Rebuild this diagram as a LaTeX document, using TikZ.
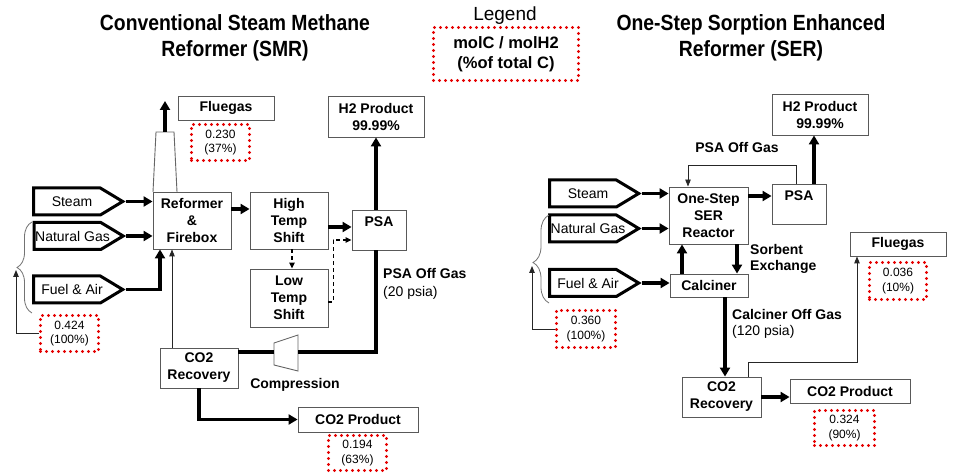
\documentclass[tikz,border=0pt]{standalone}
\usepackage{fontspec}
\setmainfont{Liberation Sans}
\newfontfamily\narrowfont{Liberation Sans}[FakeStretch=0.88]
\usetikzlibrary{arrows.meta,shapes.symbols,decorations.pathreplacing,calc}
\begin{document}
\begin{tikzpicture}[x=1bp,y=-1bp,
  bf/.style={font=\fontsize{14bp}{17bp}\selectfont\bfseries},
  rg/.style={font=\fontsize{14bp}{17bp}\selectfont},
  box/.style={draw=black!65, line width=0.9bp, fill=white, inner sep=0pt, align=center, bf},
  feed/.style={draw=black, line width=3bp, shape=signal, signal to=east, signal from=nowhere,
     signal pointer angle=62, minimum width=89bp, minimum height=27bp, inner sep=0pt},
  feedtxt/.style={rg, anchor=center, xshift=5bp},
  redbox/.style={draw=red!90!black, line width=3.2bp, dash pattern=on 0bp off 6bp, line cap=round,
     inner sep=0pt, align=center, font=\fontsize{12bp}{14.5bp}\selectfont},
  fatarrow/.style={line width=3.5bp, -{Triangle[length=9bp,width=10bp]}},
  fatline/.style={line width=3.5bp},
  thinarrow/.style={line width=0.9bp, draw=black!85, -{Triangle[length=7bp,width=5.5bp]}},
  dasharrow/.style={line width=1.3bp, dash pattern=on 4bp off 3bp, -{Triangle[length=6bp,width=5.5bp]}},
  thinline/.style={line width=0.9bp, draw=black!60},
  bracestyle/.style={line width=0.8bp, draw=black!55, decorate},
  title/.style={font=\narrowfont\fontsize{22bp}{26bp}\selectfont\bfseries, align=center, inner sep=0pt}
]
\useasboundingbox[fill=white] (0,0) rectangle (953,475);

% ---------- titles and legend ----------
\node[title] (titleL) at (235,37.5) {Conventional Steam Methane\\Reformer (SMR)};
\node[title] (titleR) at (751,37.5) {One-Step Sorption Enhanced\\Reformer (SER)};
\node[font=\fontsize{19bp}{22bp}\selectfont, anchor=base, inner sep=0pt] (legendtitle) at (505,21) {Legend};
\node[redbox, minimum width=145bp, minimum height=53bp, font=\fontsize{16.5bp}{19.5bp}\selectfont\bfseries] (legend) at (506,54) {molC / molH2\\(\%of total C)};

% ---------- left: SMR ----------
\node[box, minimum width=96bp, minimum height=24bp] (fluegasL) at (226,108) {Fluegas};
\node[redbox, minimum width=58bp, minimum height=36bp] (rL1) at (220.5,142.5) {0.230\\(37\%)};
\node[box, minimum width=78bp, minimum height=57bp] (reformer) at (192,220.5) {Reformer\\\&\\Firebox};
\node[box, minimum width=78bp, minimum height=57bp] (hts) at (289,220.5) {High\\Temp\\Shift};
\node[box, minimum width=78bp, minimum height=58bp] (lts) at (289,298) {Low\\Temp\\Shift};
\node[box, minimum width=54bp, minimum height=40bp,
  label={[bf, anchor=base, yshift=-17bp, inner sep=0pt]north:PSA}] (psaL) at (379,230) {};
\node[box, minimum width=96bp, minimum height=41bp] (h2L) at (376,116.5) {H2 Product\\99.99\%};
\node[box, minimum width=78bp, minimum height=40bp] (co2recL) at (199,368) {CO2\\Recovery};
\node[box, minimum width=120bp, minimum height=25bp] (co2prodL) at (358,419.5) {CO2 Product};
\node[redbox, minimum width=58bp, minimum height=35bp] (rL2) at (357.5,453) {0.194\\(63\%)};
\node[redbox, minimum width=58bp, minimum height=36bp] (rL3) at (69.5,333.5) {0.424\\(100\%)};

\node[feed, label={[feedtxt]center:Steam}] (steamL) at (67,201.5) {};
\node[feed, label={[feedtxt]center:Natural Gas}] (ngL) at (67.5,236) {};
\node[feed, label={[feedtxt]center:Fuel \& Air}] (fuelL) at (67,289.5) {};

% chimney
\draw[thinline] (153,192) -- (156,132) -- (174,132) -- (177,192);
\coordinate (chimtopL) at (165,132);
\coordinate (stackL) at (165,101);
\draw[fatarrow] (chimtopL) -- (stackL);

% compressor
\draw[thinline] (274,343) -- (298,335) -- (298,371) -- (274,365) -- cycle;
\coordinate (compL) at (274,352);
\coordinate (compR) at (298,352);

\draw[fatarrow] (steamL.east) -- (steamL.east -| reformer.west);
\draw[fatarrow] (ngL.east) -- (ngL.east -| reformer.west);
\draw[fatarrow] (fuelL.east) -| ([xshift=-32bp]reformer.south);
\draw[thinarrow] ([xshift=-27bp]co2recL.north) -- ([xshift=-27bp]co2recL.north |- reformer.south);
\draw[fatarrow] ([yshift=11.5bp]reformer.east) -- ([yshift=11.5bp]reformer.east -| hts.west);
\draw[fatarrow] ([yshift=-6.5bp]hts.east) -- ([yshift=-6.5bp]hts.east -| psaL.west);
\draw[dasharrow] ([xshift=3bp]hts.south) -- ([xshift=3bp]lts.north);
\draw[dasharrow] ([yshift=-4bp]lts.east) -- ++(5,0) |- ([yshift=-10bp]psaL.west);
\draw[fatarrow] (h2L.south |- psaL.north) -- (h2L.south);
\draw[fatline] (h2L.south |- psaL.south) |- (compR);
\draw[fatline] (compL) -- (compL -| co2recL.east);
\draw[fatarrow] (co2recL.south) |- (co2prodL.west);

\node[bf, anchor=base west, inner sep=0pt] (offgasL) at (383,279) {PSA Off Gas};
\node[rg, anchor=base west, inner sep=0pt] (psiaL) at (383,297) {(20 psia)};
\node[bf, anchor=base, inner sep=0pt] (compression) at (295,388) {Compression};

\draw[bracestyle, decoration={brace, amplitude=15bp}] (32,313) -- (32,222);
\coordinate (bracetipL) at (16,270);
\draw[thinarrow] (rL3.west) -| (bracetipL);

% ---------- right: SER ----------
\node[box, minimum width=79bp, minimum height=57bp] (reactor) at (708.5,215.5) {One-Step\\SER\\Reactor};
\node[box, minimum width=78bp, minimum height=23bp] (calciner) at (709,285.5) {Calciner};
\node[box, minimum width=54bp, minimum height=40bp,
  label={[bf, anchor=base, yshift=-17bp, inner sep=0pt]north:PSA}] (psaR) at (799,204) {};
\node[box, minimum width=96bp, minimum height=41bp] (h2R) at (820,114.5) {H2 Product\\99.99\%};
\node[box, minimum width=96bp, minimum height=24bp] (fluegasR) at (898,244) {Fluegas};
\node[redbox, minimum width=57bp, minimum height=37bp] (rR1) at (898,281) {0.036\\(10\%)};
\node[box, minimum width=79bp, minimum height=40bp] (co2recR) at (721.5,397) {CO2\\Recovery};
\node[box, minimum width=120bp, minimum height=24bp] (co2prodR) at (850,391) {CO2 Product};
\node[redbox, minimum width=60bp, minimum height=35bp] (rR2) at (844.5,428) {0.324\\(90\%)};
\node[redbox, minimum width=59bp, minimum height=37bp] (rR3) at (586,329) {0.360\\(100\%)};

\node[feed, label={[feedtxt]center:Steam}] (steamR) at (583,193.5) {};
\node[feed, label={[feedtxt]center:Natural Gas}] (ngR) at (583,228.5) {};
\node[feed, label={[feedtxt]center:Fuel \& Air}] (fuelR) at (583,283) {};

\draw[fatarrow] (steamR.east) -- (steamR.east -| reactor.west);
\draw[fatarrow] (ngR.east) -- (ngR.east -| reactor.west);
\draw[fatarrow] (fuelR.east) -- (fuelR.east -| calciner.west);
\draw[fatarrow] ([yshift=19.5bp]reactor.east) -- ([yshift=19.5bp]reactor.east -| psaR.west);
\draw[fatarrow] ([xshift=15bp]psaR.north) -- ([xshift=15bp]psaR.north |- h2R.south);
\draw[thinarrow] ([xshift=-3bp]psaR.north) -- ++(0,-18) -| ([xshift=-20.5bp]reactor.north);
\draw[fatarrow] ([xshift=-27bp]calciner.north) -- ([xshift=-27bp]calciner.north |- reactor.south);
\draw[fatarrow] ([xshift=28.5bp]reactor.south) -- ([xshift=28.5bp]reactor.south |- calciner.north);
\draw[fatarrow] ([xshift=16bp]calciner.south) -- ([xshift=16bp]calciner.south |- co2recR.north);
\draw[thinarrow] ([xshift=26.5bp]co2recR.north) -- ++(0,-14) -| ([xshift=-41bp]fluegasR.south);
\draw[fatarrow] (co2recR.east) -- (co2recR.east -| co2prodR.west);

\node[bf, anchor=base, inner sep=0pt] (offgasR) at (737,153) {PSA Off Gas};
\node[bf, anchor=base west, inner sep=0pt] (sorbent) at (750,255) {Sorbent};
\node[bf, anchor=base west, inner sep=0pt] (exchange) at (750,271) {Exchange};
\node[bf, anchor=base west, inner sep=0pt] (calcoff) at (732,320) {Calciner Off Gas};
\node[rg, anchor=base west, inner sep=0pt] (psiaR) at (732,336) {(120 psia)};

\draw[bracestyle, decoration={brace, amplitude=16bp, aspect=0.46}] (549,303) -- (549,215);
\coordinate (bracetipR) at (532,266);
\draw[thinarrow] (rR3.west) -| (bracetipR);
\end{tikzpicture}
\end{document}
